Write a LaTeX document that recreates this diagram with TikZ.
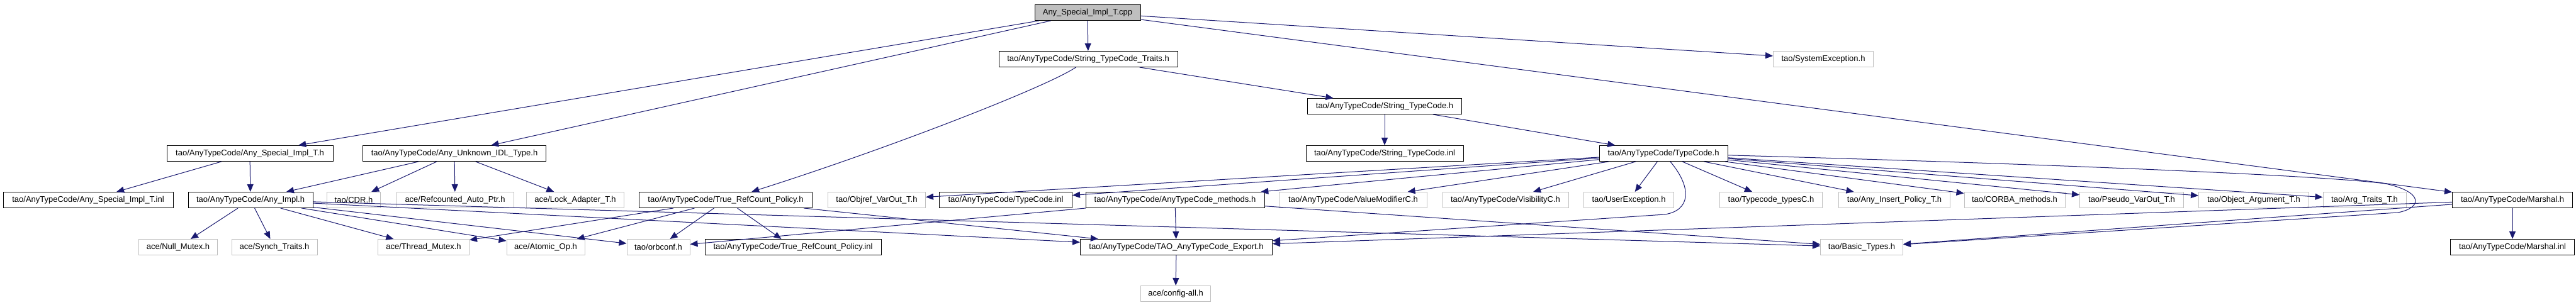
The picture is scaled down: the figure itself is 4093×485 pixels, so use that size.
\documentclass[tikz,border=0pt]{standalone}
\usepackage{fontspec}
\setmainfont{Liberation Sans}
\usepackage{xcolor}
\usetikzlibrary{calc,arrows.meta}
\definecolor{color_edge}{HTML}{191970}
\definecolor{color_border_grey}{HTML}{BFBFBF}
\definecolor{color_fill_root}{HTML}{BFBFBF}

\begin{document}
\begin{tikzpicture}[x=0.5pt,y=-0.5pt,
		every node/.style={font=\fontsize{6.5}{7}\selectfont,inner sep=0pt,minimum height=12.5pt},
		file/.style={draw=black,fill=white,line width=0.5pt,minimum width=#1*0.5pt},
		extfile/.style={draw=color_border_grey,fill=white,line width=0.5pt,minimum width=#1*0.5pt},
		inc/.style={color_edge,line width=0.5pt,-{Triangle[length=6pt,width=5pt]}}]
				\useasboundingbox (0, 0) rectangle (4093, 485);

				% Row 0 and 1
				\node[file=168,fill=color_fill_root] (root) at (1728, 20) {Any\_Special\_Impl\_T.cpp};
				\node[file=284] (traits) at (1729, 94) {tao/AnyTypeCode/String\_TypeCode\_Traits.h};
				\node[extfile=159] (sysexc) at (2897, 94) {tao/SystemException.h};

				% Row 2 and 3
				\node[file=245] (stc) at (2200, 169) {tao/AnyTypeCode/String\_TypeCode.h};
				\node[file=250] (stcinl) at (2200, 244) {tao/AnyTypeCode/String\_TypeCode.inl};
				\node[file=204] (tc) at (2643, 244) {tao/AnyTypeCode/TypeCode.h};
				\node[file=264] (specH) at (397, 244) {tao/AnyTypeCode/Any\_Special\_Impl\_T.h};
				\node[file=291] (unknown) at (722, 244) {tao/AnyTypeCode/Any\_Unknown\_IDL\_Type.h};

				% Row 4
				\node[file=270] (specInl) at (140, 318) {tao/AnyTypeCode/Any\_Special\_Impl\_T.inl};
				\node[file=198] (anyImpl) at (398, 318) {tao/AnyTypeCode/Any\_Impl.h};
				\node[extfile=85] (cdr) at (562, 318) {tao/CDR.h};
				\node[extfile=186] (refcnt) at (723, 318) {ace/Refcounted\_Auto\_Ptr.h};
				\node[extfile=155] (lockAd) at (914, 318) {ace/Lock\_Adapter\_T.h};
				\node[file=275] (trcp) at (1153, 318) {tao/AnyTypeCode/True\_RefCount\_Policy.h};
				\node[extfile=155] (objref) at (1393, 318) {tao/Objref\_VarOut\_T.h};
				\node[file=211] (tcinl) at (1598, 318) {tao/AnyTypeCode/TypeCode.inl};
				\node[file=284] (methods) at (1867, 318) {tao/AnyTypeCode/AnyTypeCode\_methods.h};
				\node[extfile=235] (valmod) at (2150, 318) {tao/AnyTypeCode/ValueModifierC.h};
				\node[extfile=200] (visib) at (2392, 318) {tao/AnyTypeCode/VisibilityC.h};
				\node[extfile=143] (userexc) at (2588, 318) {tao/UserException.h};
				\node[extfile=163] (tctypes) at (2814, 318) {tao/Typecode\_typesC.h};
				\node[extfile=177] (insertPol) at (3010, 318) {tao/Any\_Insert\_Policy\_T.h};
				\node[extfile=160] (corbaM) at (3201, 318) {tao/CORBA\_methods.h};
				\node[extfile=165] (pseudo) at (3387, 318) {tao/Pseudo\_VarOut\_T.h};
				\node[extfile=175] (objArg) at (3581, 318) {tao/Object\_Argument\_T.h};
				\node[extfile=132] (argTraits) at (3757, 318) {tao/Arg\_Traits\_T.h};
				\node[file=191] (marshal) at (3992, 318) {tao/AnyTypeCode/Marshal.h};

				% Row 5 and 6
				\node[extfile=125] (nullMtx) at (283, 393) {ace/Null\_Mutex.h};
				\node[extfile=136] (synch) at (436, 393) {ace/Synch\_Traits.h};
				\node[extfile=145] (threadMtx) at (673, 393) {ace/Thread\_Mutex.h};
				\node[extfile=124] (atomic) at (867, 393) {ace/Atomic\_Op.h};
				\node[extfile=100] (orbconf) at (1046, 393) {tao/orbconf.h};
				\node[file=280] (trcpInl) at (1260, 393) {tao/AnyTypeCode/True\_RefCount\_Policy.inl};
				\node[file=305] (export) at (1869, 393) {tao/AnyTypeCode/TAO\_AnyTypeCode\_Export.h};
				\node[extfile=131] (basic) at (2958, 393) {tao/Basic\_Types.h};
				\node[file=197] (marshalInl) at (3992, 393) {tao/AnyTypeCode/Marshal.inl};
				\node[extfile=111] (config) at (1868, 467) {ace/config-all.h};

				% Includes of the source file
				\draw[inc] (root) -- (traits);
				\draw[inc] (root) -- (specH);
				\draw[inc] (root) -- (unknown);
				\draw[inc] (root) -- (sysexc);
				\draw[inc] (root) -- (marshal);

				\draw[inc] (traits) -- (stc);
				\draw[inc] (traits) .. controls (1660, 140) and (1400, 240) .. (trcp);
				\draw[inc] (stc) -- (stcinl);
				\draw[inc] (stc) -- (tc);

				\draw[inc] (specH) -- (specInl);
				\draw[inc] (specH) -- (anyImpl);
				\draw[inc] (unknown) -- (anyImpl);
				\draw[inc] (unknown) -- (cdr);
				\draw[inc] (unknown) -- (refcnt);
				\draw[inc] (unknown) -- (lockAd);

				% Any_Impl.h
				\draw[inc] (anyImpl) -- (nullMtx);
				\draw[inc] (anyImpl) -- (synch);
				\draw[inc] (anyImpl) -- (threadMtx);
				\draw[inc] (anyImpl) -- (atomic);
				\draw[inc] (anyImpl) -- (orbconf);
				\draw[inc] (anyImpl) -- (export);
				\draw[inc] (anyImpl) -- (basic);

				% True_RefCount_Policy.h
				\draw[inc] (trcp) -- (threadMtx);
				\draw[inc] (trcp) -- (atomic);
				\draw[inc] (trcp) -- (orbconf);
				\draw[inc] (trcp) -- (trcpInl);
				\draw[inc] (trcp) -- (export);

				% TypeCode.h
				\draw[inc] (tc) -- (objref);
				\draw[inc] (tc) -- (tcinl);
				\draw[inc] (tc) -- (methods);
				\draw[inc] (tc) -- (valmod);
				\draw[inc] (tc) -- (visib);
				\draw[inc] (tc) -- (userexc);
				\draw[inc] (tc) -- (tctypes);
				\draw[inc] (tc) -- (insertPol);
				\draw[inc] (tc) -- (corbaM);
				\draw[inc] (tc) -- (pseudo);
				\draw[inc] (tc) -- (objArg);
				\draw[inc] (tc) -- (argTraits);
				\draw[inc] (tc) .. controls (2690, 300) and (2685, 335) .. (2645, 341) -- (export);
				\draw[inc] (tc) .. controls (3300, 262) and (3700, 280) .. (3790, 292)
					.. controls (3850, 305) and (3850, 330) .. (3810, 338) -- (basic);

				\draw[inc] (methods) -- (orbconf);
				\draw[inc] (methods) -- (export);
				\draw[inc] (methods) -- (basic);

				\draw[inc] (marshal) -- (export);
				\draw[inc] (marshal) -- (basic);
				\draw[inc] (marshal) -- (marshalInl);

				\draw[inc] (export) -- (config);
\end{tikzpicture}
\end{document}
